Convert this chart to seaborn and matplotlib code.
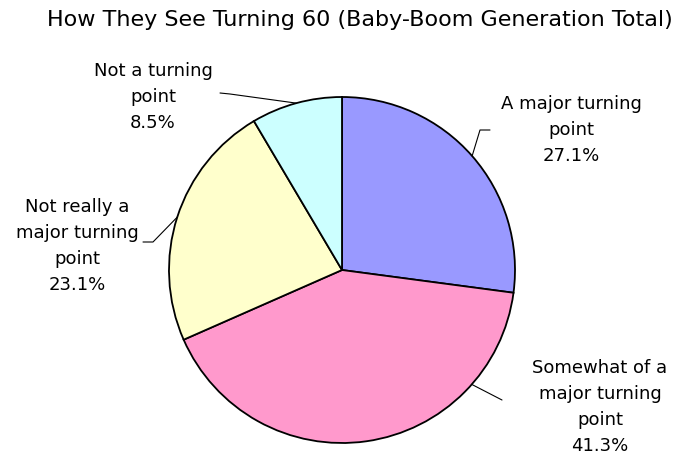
import numpy as np
import matplotlib
matplotlib.use("Agg")
import matplotlib.pyplot as plt
import seaborn as sns

categories = ["A major turning\npoint", "Somewhat of a\nmajor turning\npoint",
              "Not really a\nmajor turning\npoint", "Not a turning\npoint"]
values = [27.1, 41.3, 23.1, 8.5]
colors = ["#9999FF", "#FF99CC", "#FFFFCC", "#CCFFFF"]
title = "How They See Turning 60 (Baby-Boom Generation Total)"

sns.set_theme(style="white")
plt.rcParams['font.family'] = ['DejaVu Sans']

W, H = 692, 459
fig = plt.figure(figsize=(W / 100, H / 100), dpi=100)
ax = fig.add_axes([0, 0, 1, 1])

cx, cy, R = 342, 270, 173  # pixel center and radius
wedges, _ = ax.pie(values, colors=sns.color_palette(colors), startangle=90,
                   counterclock=False, radius=1.0,
                   wedgeprops=dict(edgecolor="black", linewidth=1.3))
ax.set_xlim(-cx / R, (W - cx) / R)
ax.set_ylim(-(H - cy) / R, cy / R)
ax.set_aspect('auto')
ax.axis('off')


def px(x, y):
    return (x - cx) / R, (cy - y) / R


# label centers (pixel), leader elbows (pixel)
label_pos = [(571, 130), (600, 407), (77, 246), (153, 97)]
elbows = [[(480, 130), (490, 130)], [(502, 400)], [(153, 242), (143, 242)],
          [(230, 94), (220, 93)]]
anchor_angle_override = {1: -41.4}

total = sum(values)
start = 90.0
for i, (lab, v) in enumerate(zip(categories, values)):
    sweep = v / total * 360
    mid = start - sweep / 2
    start -= sweep
    ang = np.deg2rad(anchor_angle_override.get(i, mid))
    pts = [(np.cos(ang), np.sin(ang))] + [px(*p) for p in elbows[i]]
    xs, ys = zip(*pts)
    ax.plot(xs, ys, color="black", linewidth=0.8)
    lx, ly = px(*label_pos[i])
    ax.text(lx, ly, f"{lab}\n{v:.1f}%", ha="center", va="center",
            fontsize=13, linespacing=1.58, color="black")

fig.text(360 / W, 1 - 20 / H, title, ha="center", va="center", fontsize=16,
         color="black")

fig.savefig("out.png", dpi=100)
